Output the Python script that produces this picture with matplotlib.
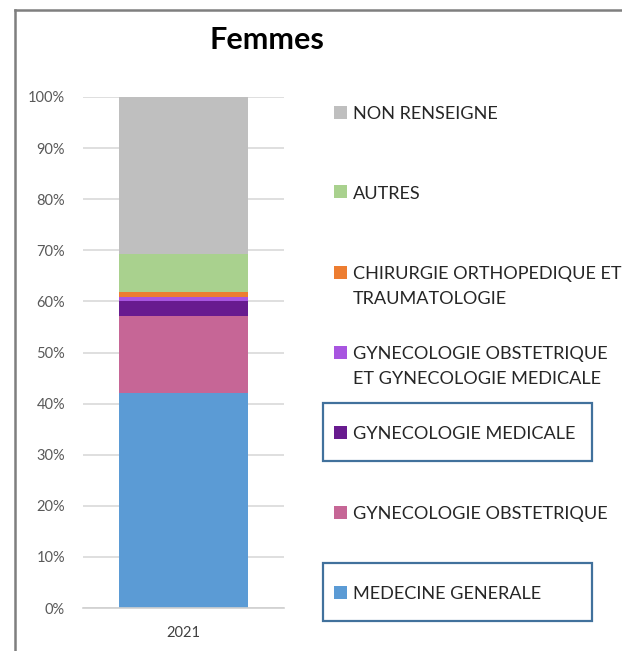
import matplotlib
matplotlib.use("Agg")
from matplotlib import pyplot as plt
from matplotlib.patches import Rectangle
from matplotlib.lines import Line2D

plt.rcParams["font.family"] = ["Lato", "DejaVu Sans"]

# stacked shares, bottom to top
years = ["2021"]
categories = [
    "MEDECINE GENERALE",
    "GYNECOLOGIE OBSTETRIQUE",
    "GYNECOLOGIE MEDICALE",
    "GYNECOLOGIE OBSTETRIQUE\nET GYNECOLOGIE MEDICALE",
    "CHIRURGIE ORTHOPEDIQUE ET\nTRAUMATOLOGIE",
    "AUTRES",
    "NON RENSEIGNE",
]
shares = [0.421, 0.150, 0.030, 0.007, 0.011, 0.073, 0.308]
colors = ["#5B9BD5", "#C66696", "#681B8F", "#A855E0", "#ED7D31", "#A9D18E", "#BFBFBF"]
boxed = ["GYNECOLOGIE MEDICALE", "MEDECINE GENERALE"]

W, H = 622, 651
fig = plt.figure(figsize=(W / 100, H / 100), dpi=100)


def fx(px):
    return px / W


def fy(py):
    return 1 - py / H


ax = fig.add_axes([fx(83), fy(608), fx(284) - fx(83), fy(97) - fy(608)])

bottom = 0.0
for cat, val, col in zip(categories, shares, colors):
    ax.bar(years, [val], bottom=bottom, width=0.64, color=col, zorder=3, label=cat)
    bottom += val

ax.set_xlim(-0.5, 0.5)
ax.set_ylim(0, 1)
ax.set_yticks([i / 10 for i in range(11)])
ax.set_yticklabels([f"{i * 10}%" for i in range(11)])
ax.grid(axis="y", color="#D9D9D9", linewidth=1.2, zorder=0)
for side in ["top", "right", "left"]:
    ax.spines[side].set_visible(False)
ax.spines["bottom"].set_color("#D0D0D0")
ax.spines["bottom"].set_linewidth(1.2)
ax.spines["bottom"].set_zorder(4)
ax.tick_params(axis="y", length=0, pad=13, labelsize=10.5, labelcolor="#595959")
ax.tick_params(axis="x", length=0, pad=13, labelsize=10.5, labelcolor="#404040")

fig.text(fx(267), fy(40), "Femmes", ha="center", va="center",
         fontsize=22, fontweight="bold", color="black")

# outer chart frame
fig.add_artist(Line2D([fx(15), fx(15)], [fy(10), 0], color="#7F7F7F", lw=1.8))
fig.add_artist(Line2D([fx(15), 1], [fy(10), fy(10)], color="#7F7F7F", lw=1.8))

# legend, top entry first
for k, (cat, col) in enumerate(zip(categories[::-1], colors[::-1])):
    yc = 112 + 80 * k
    fig.add_artist(Rectangle((fx(334), fy(yc + 6.5)), fx(13), fy(0) - fy(13),
                             facecolor=col, edgecolor="none"))
    fig.text(fx(353), fy(yc - 6), cat, ha="left", va="top", fontsize=13.1,
             color="#262626", linespacing=1.72)
    if cat in boxed:
        fig.add_artist(Rectangle((fx(323), fy(yc + 29)), fx(592) - fx(323),
                                 fy(0) - fy(58), facecolor="none",
                                 edgecolor="#41719C", lw=1.6))

fig.savefig("out.png", dpi=100)
